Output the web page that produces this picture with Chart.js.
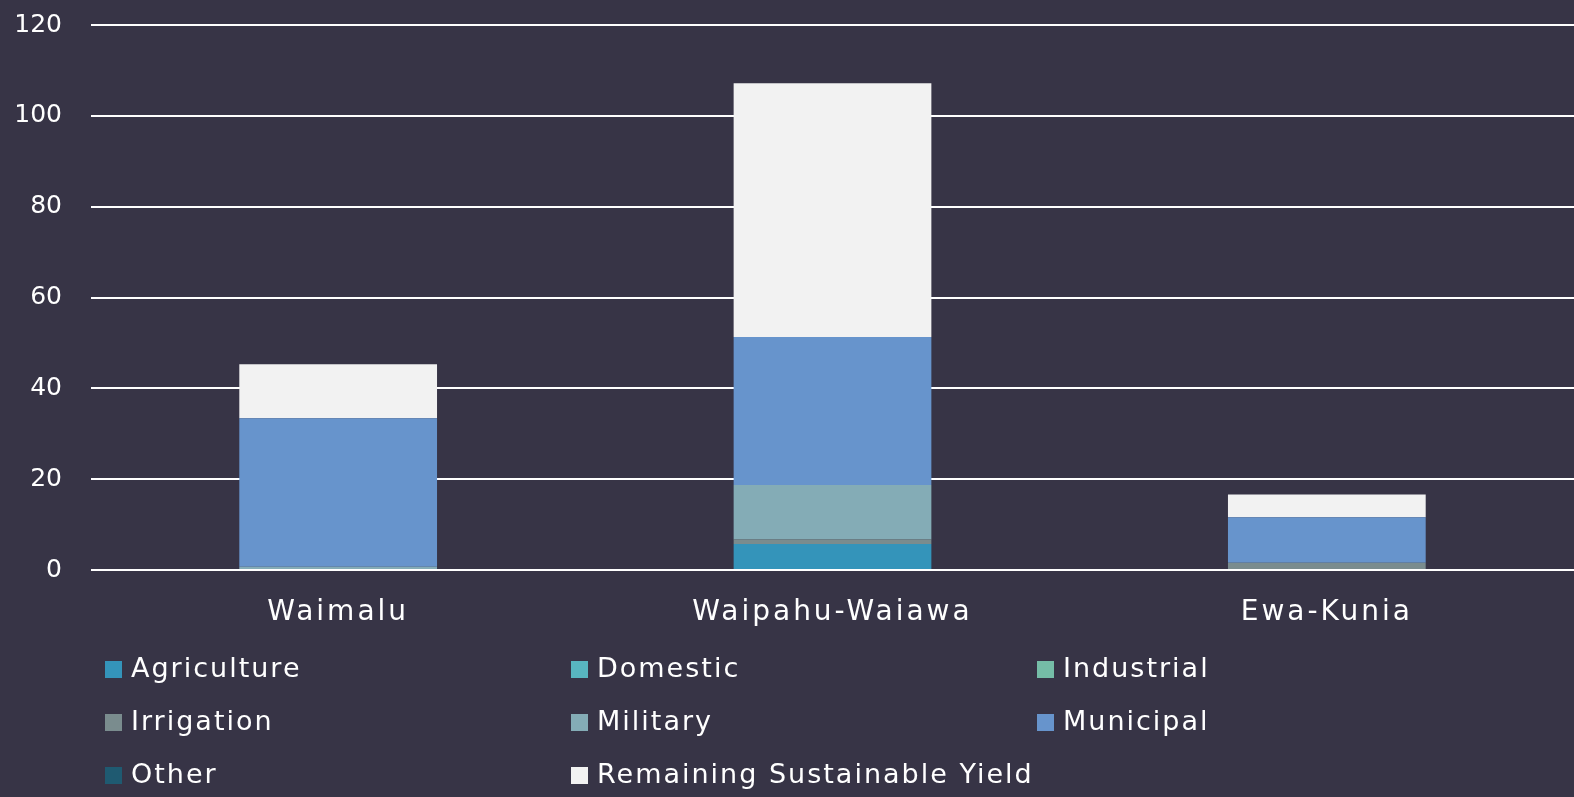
<!DOCTYPE html>
<html>
<head>
<meta charset="utf-8">
<script src="https://cdn.jsdelivr.net/npm/chart.js@4.4.0/dist/chart.umd.min.js"></script>
<style>
html,body{margin:0;padding:0;background:#373446;}
#wrap{width:1574px;height:797px;position:relative;}
</style>
</head>
<body>
<div id="wrap"><canvas id="c" width="1574" height="797"></canvas></div>
<script>
const categories = ['Waimalu', 'Waipahu-Waiawa', 'Ewa-Kunia'];
const agriculture = [0, 5.7, 0];
const domestic = [0, 0, 0];
const industrial = [0, 0, 0];
const irrigation = [0, 1.0, 1.6];
const military = [0.7, 12.0, 0];
const municipal = [32.7, 32.6, 10.0];
const other = [0, 0, 0];
const remaining = [11.9, 55.9, 5.0];
const yTicks = [0, 20, 40, 60, 80, 100, 120];

const seriesNames = ['Agriculture','Domestic','Industrial','Irrigation','Military','Municipal','Other','Remaining Sustainable Yield'];
const seriesData = [agriculture, domestic, industrial, irrigation, military, municipal, other, remaining];
const seriesColors = ['#3494BA','#58B6C0','#75BDA7','#7A8C8E','#84ACB6','#6794CC','#1F5A71','#F2F2F2'];

const FONT = '"DejaVu Sans", sans-serif';

const spacingPlugin = {
  id: 'spacing',
  beforeUpdate(chart) { chart.ctx.letterSpacing = '3px'; },
  beforeLayout(chart) { chart.ctx.letterSpacing = '3px'; },
  afterUpdate(chart) {
    const y = chart.scales.y;
    if (y && !y._wrapped) {
      const orig = y.drawLabels.bind(y);
      y.drawLabels = function (area) {
        const ctx = chart.ctx;
        const prev = ctx.letterSpacing;
        ctx.letterSpacing = '0px';
        orig(area);
        ctx.letterSpacing = prev;
      };
      y._wrapped = true;
    }
  },
  beforeDraw(chart) { chart.ctx.letterSpacing = '3px'; }
};

const legendPlugin = {
  id: 'gridLegend',
  afterDraw(chart) {
    const ctx = chart.ctx;
    const cols = [105, 571, 1037];
    const rows = [669, 722, 775];
    ctx.save();
    ctx.letterSpacing = '2px';
    ctx.font = '27px ' + FONT;
    ctx.textBaseline = 'middle';
    ctx.textAlign = 'left';
    chart.data.datasets.forEach((ds, i) => {
      const x = cols[i % 3], y = rows[Math.floor(i / 3)];
      ctx.fillStyle = ds.backgroundColor;
      ctx.fillRect(x, y - 8, 17, 17);
      ctx.fillStyle = '#FFFFFF';
      ctx.fillText(ds.label, x + 26, y + 1);
    });
    ctx.restore();
  }
};

new Chart(document.getElementById('c'), {
  type: 'bar',
  data: {
    labels: categories,
    datasets: seriesNames.map((n, i) => ({
      label: n,
      data: seriesData[i],
      backgroundColor: seriesColors[i],
      borderWidth: 0,
      categoryPercentage: 1.0,
      barPercentage: 0.4
    }))
  },
  options: {
    responsive: false,
    animation: false,
    devicePixelRatio: 1,
    layout: { padding: { top: 25, right: 0, bottom: 152, left: 0 } },
    plugins: { legend: { display: false }, tooltip: { enabled: false } },
    scales: {
      x: {
        stacked: true,
        grid: { display: false },
        border: { display: false },
        ticks: { color: '#FFFFFF', font: { family: FONT, size: 28 }, padding: 18 },
        afterFit(scale) { scale.height = 75; scale.paddingLeft = 0; scale.paddingRight = 0; }
      },
      y: {
        stacked: true,
        min: 0, max: 120,
        afterBuildTicks(scale) { scale.ticks = yTicks.map(v => ({ value: v })); },
        grid: { color: '#FFFFFF', lineWidth: 2, drawTicks: false },
        border: { display: false },
        ticks: { color: '#FFFFFF', font: { family: FONT, size: 25 }, padding: 29 },
        afterFit(scale) { scale.width = 91; scale.paddingTop = 0; scale.paddingBottom = 0; }
      }
    }
  },
  plugins: [spacingPlugin, legendPlugin]
});
</script>
</body>
</html>
